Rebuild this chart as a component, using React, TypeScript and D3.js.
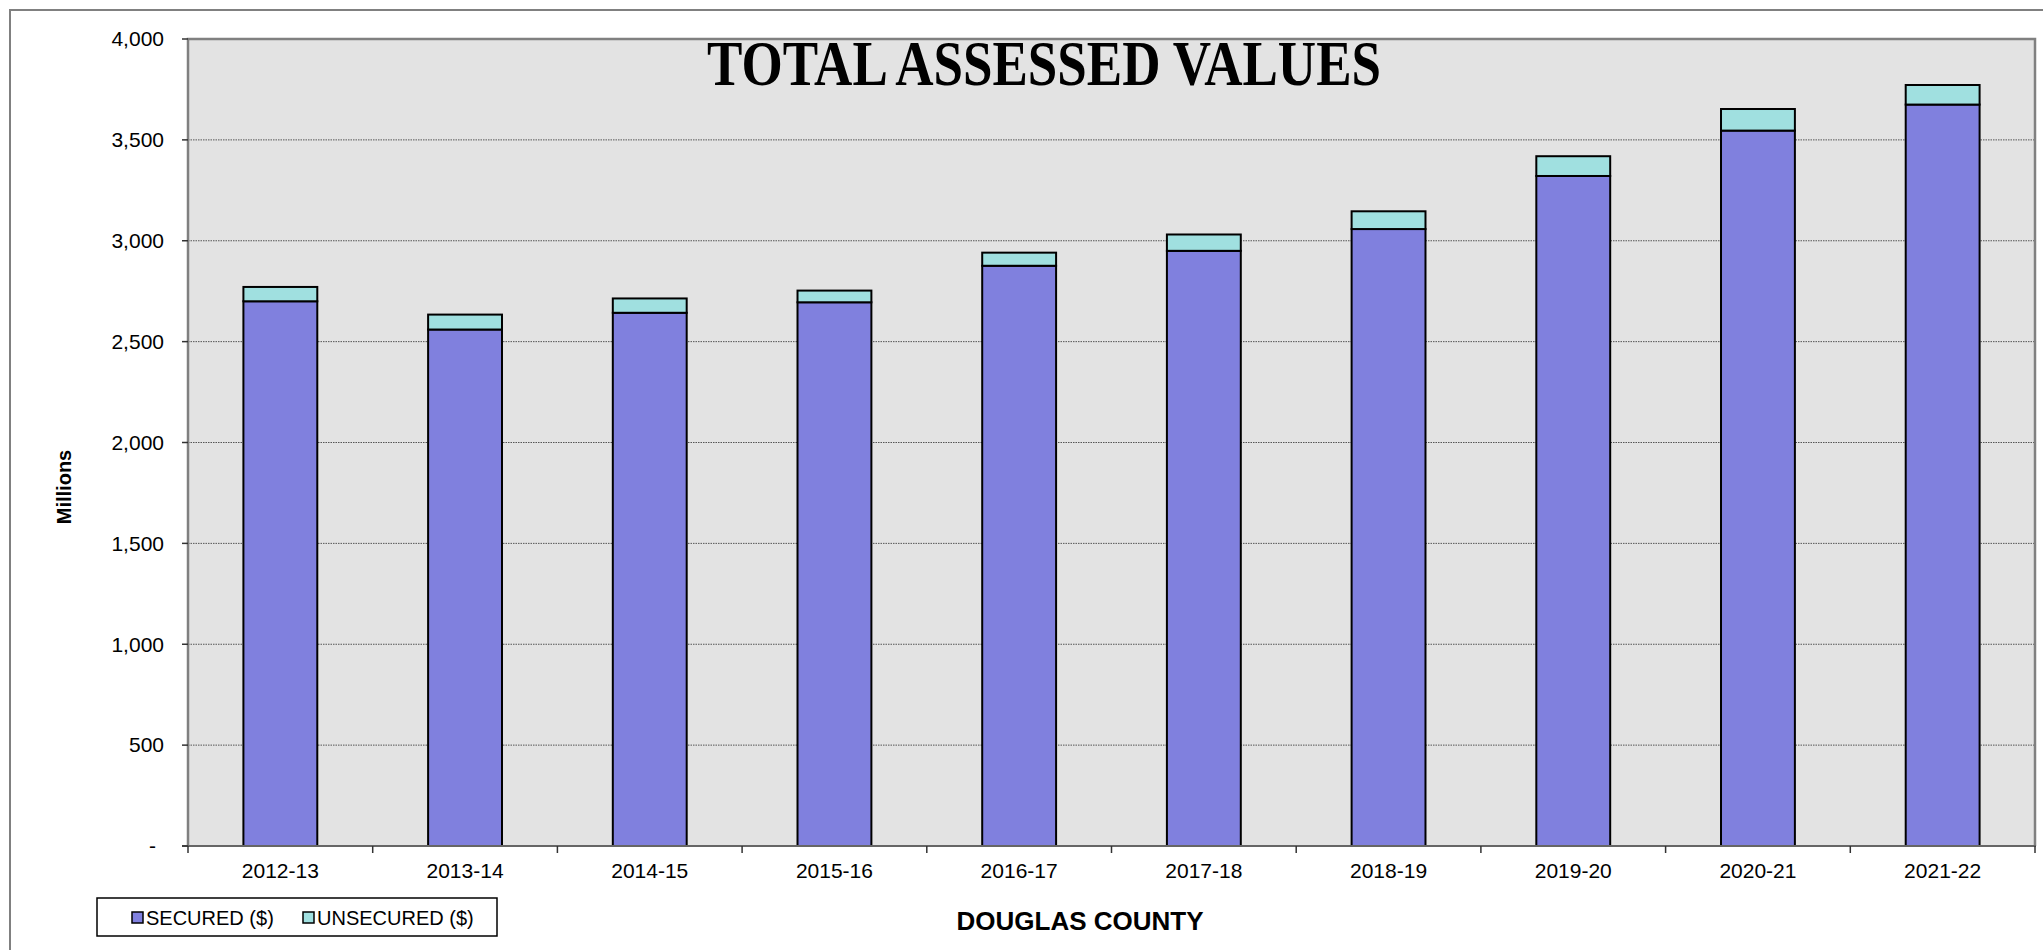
import * as d3 from "d3";

const years = ["2012-13", "2013-14", "2014-15", "2015-16", "2016-17", "2017-18", "2018-19", "2019-20", "2020-21", "2021-22"];
const secured = [2700, 2560, 2643, 2695, 2876, 2950, 3058, 3321, 3546, 3675];
const unsecured = [71, 74, 71, 58, 65, 81, 88, 98, 107, 97];
const yTicks = [0, 500, 1000, 1500, 2000, 2500, 3000, 3500, 4000];
const seriesNames = ["SECURED ($)", "UNSECURED ($)"];
const seriesColors = ["#8080DE", "#A0E0E0"];

const W = 2043;
const H = 950;
const plot = { left: 188, right: 2035, top: 39, bottom: 846 };
const sans = "'Liberation Sans', Arial, sans-serif";
const serif = "'Liberation Serif', 'Times New Roman', serif";

export default function App() {
  const x = d3
    .scaleBand<string>()
    .domain(years)
    .range([plot.left, plot.right])
    .paddingInner(0.6)
    .paddingOuter(0.3);
  const y = d3.scaleLinear().domain([0, 4000]).range([plot.bottom, plot.top]);

  const rows = years.map((yr, i) => ({ year: yr, secured: secured[i], unsecured: unsecured[i] }));
  const stacked = d3.stack<any>().keys(["secured", "unsecured"])(rows);

  const step = x.step();
  const bounds = d3.range(years.length + 1).map((i) => plot.left + i * step);
  const fmt = d3.format(",");

  return (
    <svg width={W} height={H} style={{ position: "absolute", left: 0, top: 0 }}>
      <rect x={0} y={0} width={W} height={H} fill="#fff" />
      {/* outer chart border */}
      <rect x={10} y={10} width={W + 50} height={H + 50} fill="none" stroke="#808080" strokeWidth={2} />

      {/* plot area */}
      <rect x={plot.left} y={plot.top} width={plot.right - plot.left} height={plot.bottom - plot.top} fill="#E3E3E3" />

      {yTicks.filter((t) => t > 0 && t < 4000).map((t) => (
        <line key={t} x1={plot.left} x2={plot.right} y1={y(t)} y2={y(t)} stroke="#555" strokeWidth={1} strokeDasharray="1.5 1" />
      ))}

      <text x={1044} y={85} textAnchor="middle" fontFamily={serif} fontWeight="bold" fontSize={63} textLength={674} lengthAdjust="spacingAndGlyphs">
        TOTAL ASSESSED VALUES
      </text>

      {stacked.map((layer, li) => (
        <g key={li} fill={seriesColors[li]} stroke="#000" strokeWidth={2}>
          {layer.map((d, i) => (
            <rect key={i} x={x(years[i])} width={x.bandwidth()} y={y(d[1])} height={y(d[0]) - y(d[1])} />
          ))}
        </g>
      ))}

      {/* plot border */}
      <path
        d={`M${plot.left},${plot.bottom}V${plot.top}H${plot.right}V${plot.bottom}`}
        fill="none"
        stroke="#808080"
        strokeWidth={2.5}
      />
      <line x1={plot.left - 6} x2={plot.right + 1} y1={plot.bottom} y2={plot.bottom} stroke="#666" strokeWidth={2} />

      {/* y axis */}
      {yTicks.map((t) => (
        <g key={t}>
          <line x1={plot.left - 6} x2={plot.left} y1={y(t)} y2={y(t)} stroke="#333" strokeWidth={1.5} />
          <text x={t === 0 ? 156 : 164} y={y(t)} dy="0.35em" textAnchor="end" fontFamily={sans} fontSize={21}>
            {t === 0 ? "-" : fmt(t)}
          </text>
        </g>
      ))}
      <text transform="translate(71,487) rotate(-90)" textAnchor="middle" fontFamily={sans} fontWeight="bold" fontSize={20}>
        Millions
      </text>

      {/* x axis */}
      {bounds.map((b, i) => (
        <line key={i} x1={b} x2={b} y1={plot.bottom} y2={plot.bottom + 7} stroke="#333" strokeWidth={1.5} />
      ))}
      {years.map((yr) => (
        <text key={yr} x={(x(yr) as number) + x.bandwidth() / 2} y={878} textAnchor="middle" fontFamily={sans} fontSize={21}>
          {yr}
        </text>
      ))}
      <text x={1080} y={930} textAnchor="middle" fontFamily={sans} fontWeight="bold" fontSize={26}>
        DOUGLAS COUNTY
      </text>

      {/* legend */}
      <rect x={97} y={898} width={400} height={38} fill="#fff" stroke="#000" strokeWidth={1.5} />
      {seriesNames.map((name, i) => {
        const lx = i === 0 ? 132 : 303;
        return (
          <g key={name}>
            <rect x={lx} y={912} width={11} height={11} fill={seriesColors[i]} stroke="#000" strokeWidth={1.5} />
            <text x={lx + 14} y={925} fontFamily={sans} fontSize={20}>
              {name}
            </text>
          </g>
        );
      })}
    </svg>
  );
}
